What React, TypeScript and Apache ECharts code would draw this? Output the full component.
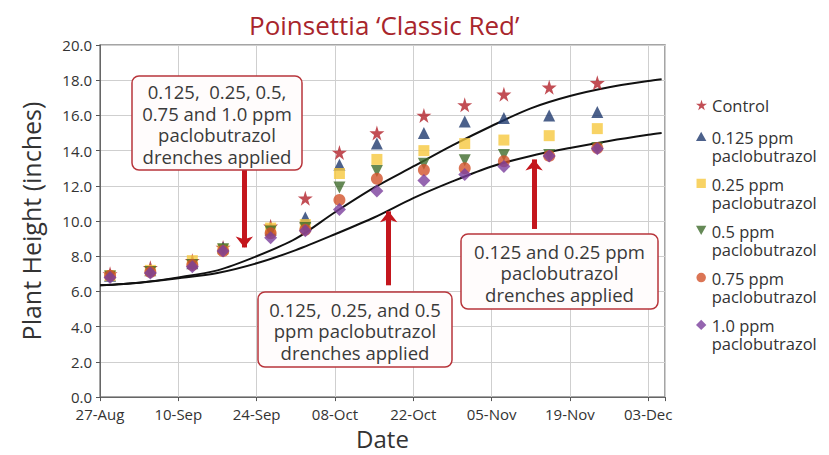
import React, { useEffect, useRef } from 'react';
import * as echarts from 'echarts';

// ---- data ----
const xTickLabels = ['27-Aug', '10-Sep', '24-Sep', '08-Oct', '22-Oct', '05-Nov', '19-Nov', '03-Dec'];
const measureDays = [1.8, 9, 16.5, 22, 30.5, 36.7, 42.8, 49.5, 57.9, 65.2, 72.2, 80.3, 88.9];
const control = [7.0, 7.35, 7.75, 8.5, 9.7, 11.3, 13.9, 15.0, 16.0, 16.6, 17.2, 17.6, 17.85];
const ppm0125 = [6.9, 7.2, 7.6, 8.5, 9.5, 10.2, 13.2, 14.4, 15.0, 15.65, 15.85, 16.0, 16.2];
const ppm025 = [6.9, 7.2, 7.75, 8.4, 9.6, 9.8, 12.7, 13.5, 14.0, 14.4, 14.6, 14.85, 15.25];
const ppm05 = [6.85, 7.1, 7.5, 8.4, 9.4, 9.6, 11.9, 12.85, 13.25, 13.45, 13.75, 13.75, 14.15];
const ppm075 = [6.9, 7.1, 7.5, 8.3, 9.3, 9.5, 11.2, 12.4, 12.9, 13.0, 13.4, 13.7, 14.15];
const ppm10 = [6.8, 7.05, 7.4, 8.3, 9.05, 9.45, 10.65, 11.7, 12.3, 12.65, 13.1, 13.7, 14.1];

// fitted growth curves
const curveDays = [0, 7, 14, 21, 28, 35, 42, 49, 56, 63, 70, 77, 84, 91, 98, 100.4];
const upperCurve = [6.35, 6.5, 6.8, 7.2, 8.0, 9.0, 10.5, 11.9, 13.1, 14.3, 15.4, 16.4, 17.1, 17.6, 17.95, 18.05];
const lowerCurve = [6.35, 6.5, 6.75, 7.05, 7.6, 8.35, 9.25, 10.2, 11.3, 12.25, 13.1, 13.7, 14.15, 14.55, 14.9, 15.0];

// arrows: day, start value, tip value
const arrowDays = [25.8, 51.6, 77.6];
const arrowFrom = [13.1, 6.35, 9.55];
const arrowTo = [8.5, 10.55, 13.5];

const FONT = '"Open Sans", "Noto Sans", sans-serif';
const STAR = 'path://M50,0 L61,35 L98,35 L68,57 L79,91 L50,70 L21,91 L32,57 L2,35 L39,35 Z';
const DOWN_TRI = 'path://M0,0 L10,0 L5,9 Z';
// legend icons drawn in the top of a taller box so they line up with the first text line
const PHANTOM = ' M0,28 L10,28 L10,28 Z';
const legendIcons = [
  '',
  'path://M5,0 L10,9 L0,9 Z' + PHANTOM,
  'path://M0.5,0 L9.5,0 L9.5,9 L0.5,9 Z' + PHANTOM,
  'path://M0,0 L10,0 L5,9 Z' + PHANTOM,
  'path://M0.4,4.6 A4.6,4.6 0 1 0 9.6,4.6 A4.6,4.6 0 1 0 0.4,4.6 Z' + PHANTOM,
  'path://M5,0 L10,5 L5,10 L0,5 Z' + PHANTOM,
];

const seriesDefs = [
  { name: 'Control', data: control, symbol: STAR, color: '#b3222b', size: 15 },
  { name: '0.125 ppm\npaclobutrazol', data: ppm0125, symbol: 'triangle', color: '#1f3a6e', size: 12 },
  { name: '0.25 ppm\npaclobutrazol', data: ppm025, symbol: 'rect', color: '#f6c83e', size: 11 },
  { name: '0.5 ppm\npaclobutrazol', data: ppm05, symbol: DOWN_TRI, color: '#3e6b2c', size: 12 },
  { name: '0.75 ppm\npaclobutrazol', data: ppm075, symbol: 'circle', color: '#d2532b', size: 12 },
  { name: '1.0 ppm\npaclobutrazol', data: ppm10, symbol: 'diamond', color: '#7a3e9c', size: 13 },
];

const boxes = [
  { x: 132, y: 76, w: 170, h: 94, lines: ['0.125,  0.25, 0.5,', '0.75 and 1.0 ppm', 'paclobutrazol', 'drenches applied'] },
  { x: 258, y: 292, w: 194, h: 75, lines: ['0.125,  0.25, and 0.5', 'ppm paclobutrazol', 'drenches applied'] },
  { x: 461, y: 234, w: 197, h: 75, lines: ['0.125 and 0.25 ppm', 'paclobutrazol', 'drenches applied'] },
];

const LEG_X = 713;
const LEG_FIRST = 137;
const LEG_STEP = 47;
const LEG_LINE = 18.5;
const LEG_FONT = 16.5;

export default function App() {
  const ref = useRef<HTMLDivElement>(null);
  useEffect(() => {
    document.body.style.margin = '0';
    const chart = echarts.init(ref.current!, null, { renderer: 'svg' });
    const graphic: any[] = [];
    boxes.forEach((b) => {
      graphic.push({
        type: 'rect', z: 100,
        shape: { x: b.x, y: b.y, width: b.w, height: b.h, r: 7 },
        style: { fill: '#fffcfc', stroke: '#b8353b', lineWidth: 1.5 },
      });
      graphic.push({
        type: 'text', z: 101, x: b.x + b.w / 2, y: b.y + b.h / 2 + 1,
        style: {
          text: b.lines.join('\n'), align: 'center', verticalAlign: 'middle',
          fontSize: 18.5, lineHeight: 21.5, fill: '#3a3a3a', fontFamily: FONT,
        },
      });
    });

    const scatter = seriesDefs.map((s) => ({
      type: 'scatter', name: s.name, symbol: s.symbol, symbolSize: s.size,
      itemStyle: { color: s.color }, z: 3,
      data: measureDays.map((d, i) => [d, s.data[i]]),
    }));

    const legendCommon = {
      orient: 'vertical', left: LEG_X - 17, padding: 0,
      textStyle: { fontSize: LEG_FONT, lineHeight: LEG_LINE, color: '#333', fontFamily: FONT },
      selectedMode: false,
    };

    const option: any = {
      animation: false,
      title: {
        text: 'Poinsettia \u2018Classic Red\u2019', left: 244, top: 7,
        textStyle: { fontSize: 26, fontWeight: 'normal', color: '#a8252c', fontFamily: FONT },
      },
      grid: { left: 100, right: 164, top: 45, bottom: 48, show: true, borderColor: '#888', borderWidth: 1.5, backgroundColor: '#fff' },
      legend: [
        { ...legendCommon, itemWidth: 11, itemHeight: 11, top: 105 - LEG_LINE / 2, data: [seriesDefs[0].name] },
        {
          ...legendCommon, itemWidth: 11, itemHeight: 29,
          top: LEG_FIRST - LEG_LINE / 2, itemGap: LEG_STEP - 2 * LEG_LINE,
          data: seriesDefs.slice(1).map((s, i) => ({ name: s.name, icon: legendIcons[i + 1] })),
        },
      ],
      xAxis: {
        type: 'value', min: 0, max: 101, interval: 14,
        name: 'Date', nameLocation: 'middle', nameGap: 23,
        nameTextStyle: { fontSize: 24, color: '#333', fontFamily: FONT },
        axisLine: { show: true, lineStyle: { color: '#666' } },
        axisTick: { show: true, length: 4, lineStyle: { color: '#555' } },
        axisLabel: {
          fontSize: 15, color: '#333', fontFamily: FONT, margin: 9,
          formatter: (v: number) => (v % 14 === 0 ? xTickLabels[v / 14] ?? '' : ''),
        },
        splitLine: { show: true, lineStyle: { color: '#cfcfcf' } },
      },
      yAxis: {
        type: 'value', min: 0, max: 20, interval: 2,
        name: 'Plant Height (inches)', nameLocation: 'middle', nameGap: 57,
        nameTextStyle: { fontSize: 25, color: '#333', fontFamily: FONT },
        axisLine: { show: true, lineStyle: { color: '#666' } },
        axisTick: { show: true, length: 4, lineStyle: { color: '#555' } },
        axisLabel: { fontSize: 15, color: '#333', fontFamily: FONT, margin: 8, formatter: (v: number) => v.toFixed(1) },
        splitLine: { show: true, lineStyle: { color: '#cfcfcf' } },
      },
      series: [
        {
          type: 'line', name: 'upper', data: curveDays.map((d, i) => [d, upperCurve[i]]),
          showSymbol: false, smooth: 0.3, lineStyle: { color: '#111', width: 2 }, z: 2, silent: true,
          markLine: {
            silent: true, symbol: ['none', 'arrow'], symbolSize: [13, 11],
            label: { show: false },
            lineStyle: { color: '#c4161d', width: 5, type: 'solid' },
            data: arrowDays.map((d, i) => [{ coord: [d, arrowFrom[i]] }, { coord: [d, arrowTo[i]] }]),
          },
        },
        {
          type: 'line', name: 'lower', data: curveDays.map((d, i) => [d, lowerCurve[i]]),
          showSymbol: false, smooth: 0.3, lineStyle: { color: '#111', width: 2 }, z: 2, silent: true,
        },
        ...scatter,
      ],
      graphic,
    };
    chart.setOption(option);
    return () => chart.dispose();
  }, []);
  return <div ref={ref} style={{ width: 829, height: 455 }} />;
}
